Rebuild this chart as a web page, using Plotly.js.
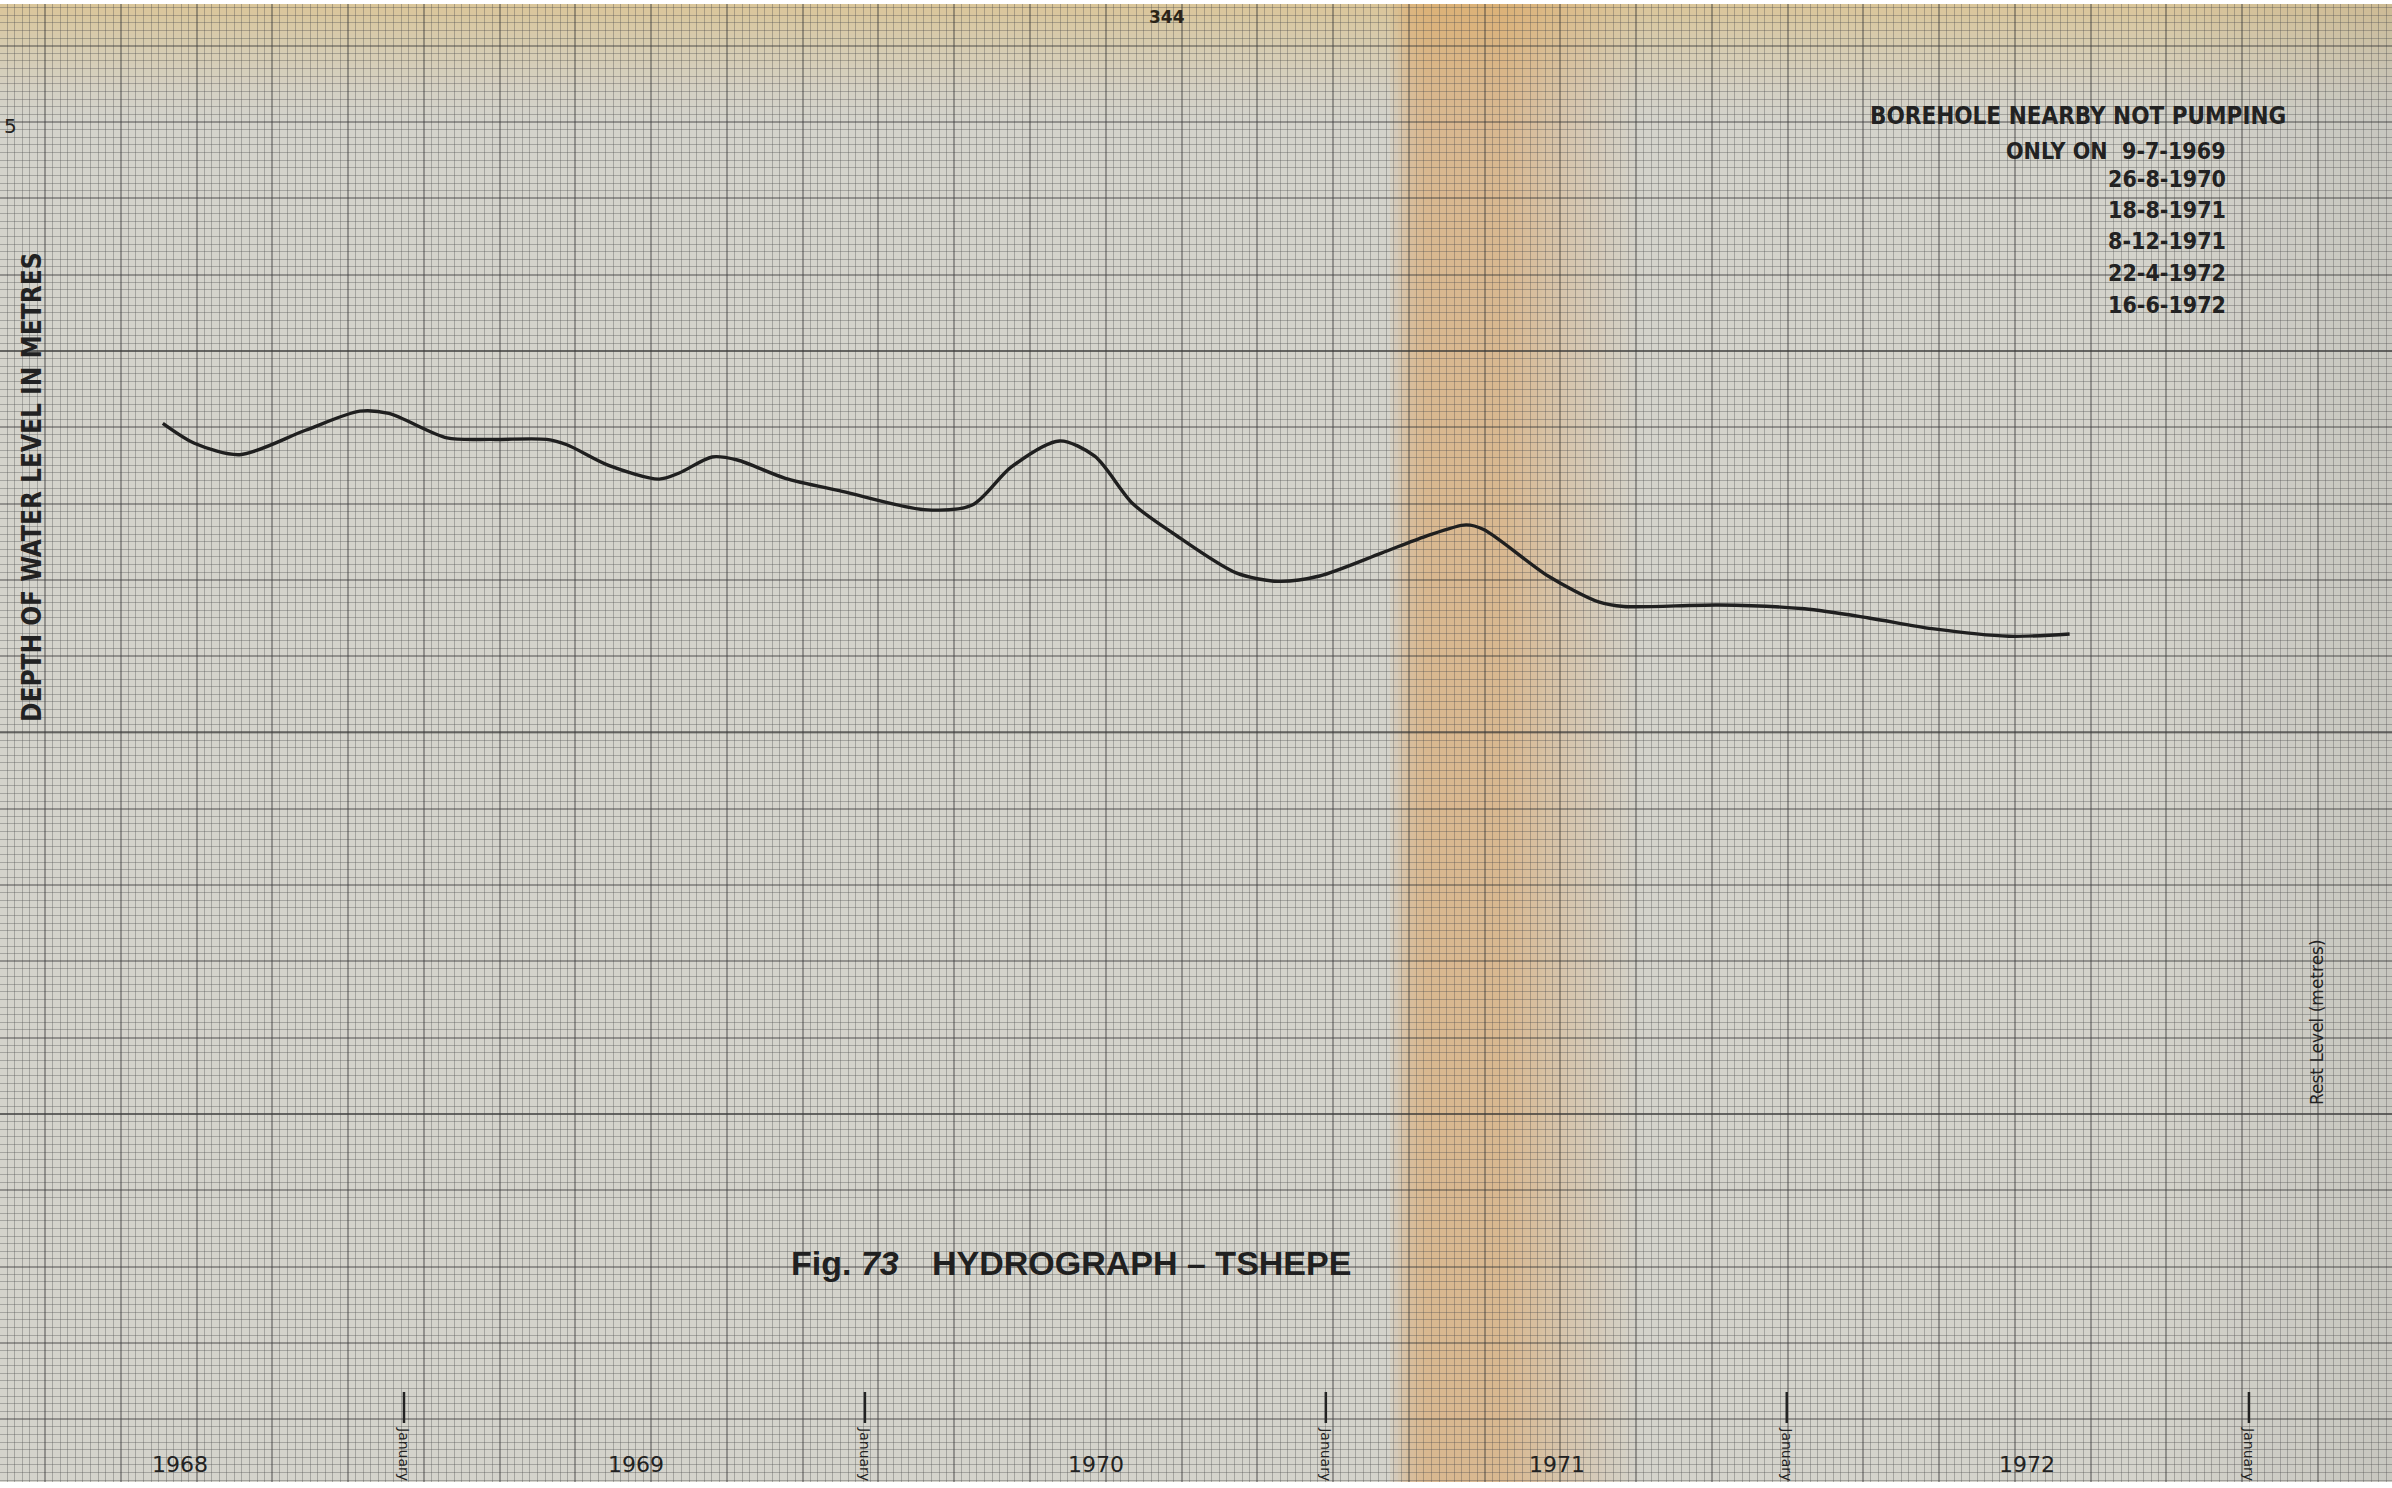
<!DOCTYPE html>
<html>
<head>
<meta charset="utf-8">
<script src="https://cdn.plot.ly/plotly-3.0.1.min.js"></script>
<style>
  html, body { margin: 0; padding: 0; background: #ffffff; }
  #chart { width: 2392px; height: 1488px; }
</style>
</head>
<body>
<div id="chart"></div>
<script>
const readingDates = [
  '1968-06-24','1968-07-19','1968-08-24','1968-10-15','1968-11-27','1968-12-20',
  '1969-02-04','1969-03-12','1969-04-24','1969-05-10','1969-06-12','1969-07-22',
  '1969-08-07','1969-09-02','1969-09-22','1969-10-30','1969-12-14','1970-02-17',
  '1970-03-27','1970-04-27','1970-06-04','1970-07-02','1970-08-01','1970-09-02',
  '1970-10-22','1970-11-24','1970-12-27','1971-02-14','1971-03-21','1971-04-22',
  '1971-05-06','1971-06-26','1971-08-05','1971-08-25','1971-11-08','1972-01-15',
  '1972-03-06','1972-04-25','1972-06-25','1972-08-12'
];
const depthMetres = [
  8.95, 9.21, 9.36, 9.04, 8.79, 8.82,
  9.14, 9.16, 9.16, 9.23, 9.50, 9.68,
  9.60, 9.39, 9.43, 9.67, 9.84, 10.08,
  10.02, 9.52, 9.18, 9.38, 10.00, 10.39,
  10.91, 11.02, 10.95, 10.65, 10.43, 10.28,
  10.34, 10.95, 11.29, 11.35, 11.33, 11.38,
  11.50, 11.64, 11.74, 11.71
];
const yearLabels = ['1968', '1969', '1970', '1971', '1972'];
const yearLabelDates = ['1968-07-08', '1969-07-04', '1970-07-03', '1971-07-03', '1972-07-09'];
const januaryDates = ['1969-01-01', '1970-01-01', '1971-01-01', '1972-01-01', '1973-01-01'];
const notPumpingDates = ['9-7-1969', '26-8-1970', '18-8-1971', '8-12-1971', '22-4-1972', '16-6-1972'];
const depthTickValues = [5];
const depthTickLabels = ['5'];
const heavyRulingDepths = [8, 13, 18];

// ---- page geometry (pixels) ----
const W = 2392, H = 1488, MT = 4, MB = 6;
const plotH = H - MT - MB;
const px = x => x / W;                       // page x -> paper x
const py = y => (H - MB - y) / plotH;        // page y -> paper y
const DAY = 86400000;
const DEPTH_RANGE = [22.824, 3.4535];        // reversed: depth grows downward

const FONT = 'DejaVu Sans';
const FONT_C = 'DejaVu Sans Condensed';
const INK = '#222222';

// ---- paper stains (styling only) ----
const shapes = [];
// top yellowing
for (let y = MT; y < 120; y += 3) {
  const a = 0.72 * Math.pow(1 - (y - MT) / 116, 1.4);
  shapes.push({type: 'rect', xref: 'paper', yref: 'paper', layer: 'below',
    x0: 0, x1: 1, y0: py(y + 3), y1: py(y), line: {width: 0},
    fillcolor: `rgba(220,192,134,${a.toFixed(3)})`});
}
// vertical tan stain
function stainAlpha(x) {
  if (x < 1388) return 0;
  if (x < 1408) return 0.38 * (x - 1388) / 20;
  if (x < 1425) return 0.38 + 0.12 * (x - 1408) / 17;
  if (x < 1505) return 0.50;
  if (x < 1560) return 0.50 - 0.22 * (x - 1505) / 55;
  if (x < 1640) return 0.28 * (1 - (x - 1560) / 80);
  return 0;
}
for (let x = 1386; x < 1642; x += 4) {
  const a = stainAlpha(x + 2);
  if (a <= 0) continue;
  shapes.push({type: 'rect', xref: 'paper', yref: 'paper', layer: 'below',
    x0: px(x), x1: px(x + 4), y0: 0, y1: 1, line: {width: 0},
    fillcolor: `rgba(222,158,86,${a.toFixed(3)})`});
}
// greyer right edge
for (let x = 2150; x < W; x += 6) {
  const a = 0.12 * (x - 2150) / (W - 2150);
  shapes.push({type: 'rect', xref: 'paper', yref: 'paper', layer: 'below',
    x0: px(x), x1: px(x + 6), y0: 0, y1: 1, line: {width: 0},
    fillcolor: `rgba(110,110,110,${a.toFixed(3)})`});
}
// heavier 5 cm rulings of the graph paper
heavyRulingDepths.forEach(d => {
  shapes.push({type: 'line', xref: 'paper', yref: 'y', layer: 'between',
    x0: 0, x1: 1, y0: d, y1: d, line: {color: 'rgba(35,35,35,0.45)', width: 2}});
});
// January marks on the time axis
januaryDates.forEach(d => {
  shapes.push({type: 'line', xref: 'x', yref: 'paper', layer: 'above',
    x0: d, x1: d, y0: py(1392), y1: py(1423),
    line: {color: INK, width: 2.5}});
});

// ---- annotations ----
const annotations = [];
annotations.push({xref: 'paper', yref: 'paper', x: px(32), y: py(487),
  text: 'DEPTH OF WATER LEVEL IN METRES', textangle: -90, showarrow: false,
  xanchor: 'center', yanchor: 'middle',
  font: {family: FONT_C, size: 26, color: INK, weight: 'bold'}});
annotations.push({xref: 'paper', yref: 'paper', x: px(2317), y: py(1022),
  text: 'Rest Level (metres)', textangle: -90, showarrow: false,
  xanchor: 'center', yanchor: 'middle', font: {family: FONT, size: 17, color: INK}});
annotations.push({xref: 'paper', yref: 'paper', x: px(1868), y: py(116),
  text: 'BOREHOLE NEARBY NOT PUMPING', showarrow: false,
  xanchor: 'left', yanchor: 'middle',
  font: {family: FONT_C, size: 24, color: INK, weight: 'bold'}});
const dateRowsY = [151, 179, 210, 241, 273, 305];
notPumpingDates.forEach((d, i) => {
  annotations.push({xref: 'paper', yref: 'paper', x: px(2228), y: py(dateRowsY[i]),
    text: (i === 0 ? 'ONLY ON\u00a0\u00a0' : '') + d, showarrow: false,
    xanchor: 'right', yanchor: 'middle',
    font: {family: FONT_C, size: 23, color: INK, weight: 'bold'}});
});
annotations.push({xref: 'paper', yref: 'paper', x: px(789), y: py(1263),
  text: 'Fig. <i>73</i>', showarrow: false, xanchor: 'left', yanchor: 'middle',
  font: {family: 'Liberation Sans', size: 34, color: '#202020', weight: 'bold'}});
annotations.push({xref: 'paper', yref: 'paper', x: px(930), y: py(1263),
  text: 'HYDROGRAPH \u2013 TSHEPE', showarrow: false, xanchor: 'left', yanchor: 'middle',
  font: {family: 'Liberation Sans', size: 34, color: '#202020', weight: 'bold'}});
annotations.push({xref: 'paper', yref: 'paper', x: px(1167), y: py(5),
  text: '344', showarrow: false, xanchor: 'center', yanchor: 'top',
  font: {family: FONT, size: 17, color: '#2a2418', weight: 'bold'}});
depthTickValues.forEach((v, i) => {
  annotations.push({xref: 'paper', yref: 'y', x: px(2), y: v, yshift: -4,
    text: depthTickLabels[i], showarrow: false, xanchor: 'left', yanchor: 'middle',
    font: {family: FONT, size: 20, color: INK}});
});
yearLabels.forEach((t, i) => {
  annotations.push({xref: 'x', yref: 'paper', x: yearLabelDates[i], y: py(1464),
    text: t, showarrow: false, xanchor: 'center', yanchor: 'middle',
    font: {family: FONT, size: 22, color: INK}});
});
januaryDates.forEach(d => {
  annotations.push({xref: 'x', yref: 'paper', x: d, y: py(1425),
    text: 'January', textangle: 90, showarrow: false, xanchor: 'center', yanchor: 'top',
    font: {family: FONT, size: 14, color: INK}});
});

// ---- trace ----
const trace = {
  type: 'scatter', mode: 'lines',
  x: readingDates, y: depthMetres,
  line: {color: '#1f1f1f', width: 3.4, shape: 'spline', smoothing: 0.8},
  hoverinfo: 'skip'
};

const gridTick0 = '1968-03-22 17:00';
const MAJOR = 'rgba(55,55,55,0.42)';
const MINOR = 'rgba(80,80,80,0.36)';
const layout = {
  width: W, height: H,
  margin: {l: 0, r: 0, t: MT, b: MB, pad: 0},
  paper_bgcolor: '#ffffff',
  plot_bgcolor: '#d4d3cb',
  showlegend: false,
  xaxis: {
    type: 'date', range: ['1968-02-16 02:00', '1973-04-24 07:00'],
    showgrid: true, gridcolor: MAJOR, gridwidth: 2,
    tick0: gridTick0, dtick: 60 * DAY,
    minor: {showgrid: true, tick0: gridTick0, dtick: 6 * DAY,
            gridcolor: MINOR, gridwidth: 1},
    showticklabels: false, ticks: '', zeroline: false, showline: false, fixedrange: true
  },
  yaxis: {
    range: DEPTH_RANGE, tickmode: 'linear',
    showgrid: true, gridcolor: MAJOR, gridwidth: 2,
    tick0: 0, dtick: 1,
    minor: {showgrid: true, tick0: 0, dtick: 0.1,
            gridcolor: MINOR, gridwidth: 1},
    showticklabels: false, ticks: '', zeroline: false, showline: false, fixedrange: true
  },
  shapes: shapes,
  annotations: annotations
};

Plotly.newPlot('chart', [trace], layout, {staticPlot: true, displayModeBar: false});
</script>
</body>
</html>
